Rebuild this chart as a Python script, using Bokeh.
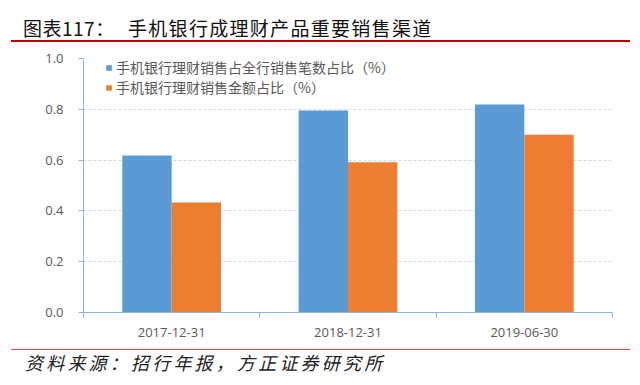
import numpy as np
from bokeh.plotting import figure
from bokeh.layouts import column
from bokeh.models import (ColumnDataSource, Range1d, FixedTicker, PrintfTickFormatter,
                          Legend, LegendItem, Div)
from bokeh.embed import file_html
from bokeh.resources import INLINE

# ---- data ----
categories = ["2017-12-31", "2018-12-31", "2019-06-30"]
count_share = [0.618, 0.795, 0.819]
amount_share = [0.433, 0.592, 0.700]
series_names = ["手机银行理财销售占全行销售笔数占比（%）", "手机银行理财销售金额占比（%）"]
y_ticks = [0.0, 0.2, 0.4, 0.6, 0.8, 1.0]
title_prefix = "图表117："
title_text = "手机银行成理财产品重要销售渠道"
source_text = "资料来源：招行年报，方正证券研究所"

BLUE = "#5B9BD5"
ORANGE = "#ED7D31"
AXIS = "#8EB4E3"
GRAY = "#595959"
CJK = "Noto Sans CJK SC"
W = 632

title_html = (
    f'<div style="position:relative;width:{W}px;height:42px;">'
    f'<div style="position:absolute;left:23px;top:18px;font-family:\'{CJK}\';font-size:19px;'
    f'line-height:19px;color:#111;white-space:nowrap;letter-spacing:0.5px;">{title_prefix}</div>'
    f'<div style="position:absolute;left:128px;top:18px;font-family:\'{CJK}\';font-size:19px;'
    f'line-height:19px;color:#111;white-space:nowrap;letter-spacing:1.3px;">{title_text}</div>'
    f'<div style="position:absolute;left:11px;top:40px;width:619px;height:2px;background:#C00000;"></div>'
    '</div>'
)
title_div = Div(text=title_html, width=W, height=42, margin=(0, 0, 0, 0))

source_html = (
    f'<div style="position:relative;width:{W}px;height:30px;">'
    f'<div style="position:absolute;left:11px;top:2px;width:619px;height:1px;background:#D0504D;"></div>'
    f'<div style="position:absolute;left:25px;top:6px;font-family:\'{CJK}\';font-size:18px;'
    f'line-height:18px;font-style:italic;color:#222;white-space:nowrap;letter-spacing:3.2px;">{source_text}</div>'
    '</div>'
)
source_div = Div(text=source_html, width=W, height=30, margin=(0, 0, 0, 0))

idx = np.arange(len(categories))
bw = 0.28
src = ColumnDataSource(dict(
    xb=idx + 0.5 - bw / 2, xo=idx + 0.5 + bw / 2,
    count=count_share, amount=amount_share))

p = figure(width=W, height=305, output_backend="svg", toolbar_location=None,
           x_range=Range1d(0, len(categories)), y_range=Range1d(0, 1.0),
           min_border_left=83, min_border_right=W - 612, min_border_top=16, min_border_bottom=35,
           margin=(0, 0, 0, 0))
p.outline_line_color = None
p.background_fill_color = "white"
p.border_fill_color = "white"

r1 = p.vbar(x="xb", top="count", width=bw, source=src, fill_color=BLUE, line_color=None)
r2 = p.vbar(x="xo", top="amount", width=bw, source=src, fill_color=ORANGE, line_color=None)

# axes
xa = p.xaxis[0]
xa.ticker = FixedTicker(ticks=list(idx + 0.5), minor_ticks=list(np.arange(len(categories) + 1)))
xa.major_label_overrides = {float(i + 0.5): c for i, c in enumerate(categories)}
xa.major_tick_out = 0
xa.major_tick_in = 0
xa.minor_tick_out = 5
xa.minor_tick_in = 0
xa.axis_line_color = AXIS
xa.minor_tick_line_color = AXIS
xa.major_label_text_font = "Open Sans"
xa.major_label_text_font_size = "13px"
xa.major_label_text_color = GRAY
xa.major_label_standoff = 10

ya = p.yaxis[0]
ya.ticker = FixedTicker(ticks=y_ticks)
ya.formatter = PrintfTickFormatter(format="%.1f")
ya.major_tick_out = 5
ya.major_tick_in = 0
ya.minor_tick_line_color = None
ya.axis_line_color = AXIS
ya.major_tick_line_color = AXIS
ya.major_label_text_font = "Open Sans"
ya.major_label_text_font_size = "13px"
ya.major_label_text_color = GRAY
ya.major_label_standoff = 15

p.xgrid.grid_line_color = None
p.ygrid.ticker = FixedTicker(ticks=y_ticks)
p.ygrid.grid_line_color = "#D9D9D9"
p.ygrid.grid_line_dash = "3 2"

legend = Legend(items=[LegendItem(label=series_names[0], renderers=[r1]),
                       LegendItem(label=series_names[1], renderers=[r2])],
                location=(22, 215))
legend.padding = 0
legend.margin = 0
legend.spacing = 0
legend.glyph_width = 7
legend.glyph_height = 7
legend.label_standoff = 4
legend.label_height = 14
legend.label_text_font = CJK
legend.label_text_font_size = "14px"
legend.label_text_color = GRAY
legend.border_line_color = None
legend.background_fill_alpha = 0
p.add_layout(legend)

layout = column(title_div, p, source_div, spacing=0, margin=(0, 0, 0, 0))
open("out.html", "w").write(file_html(layout, INLINE))
